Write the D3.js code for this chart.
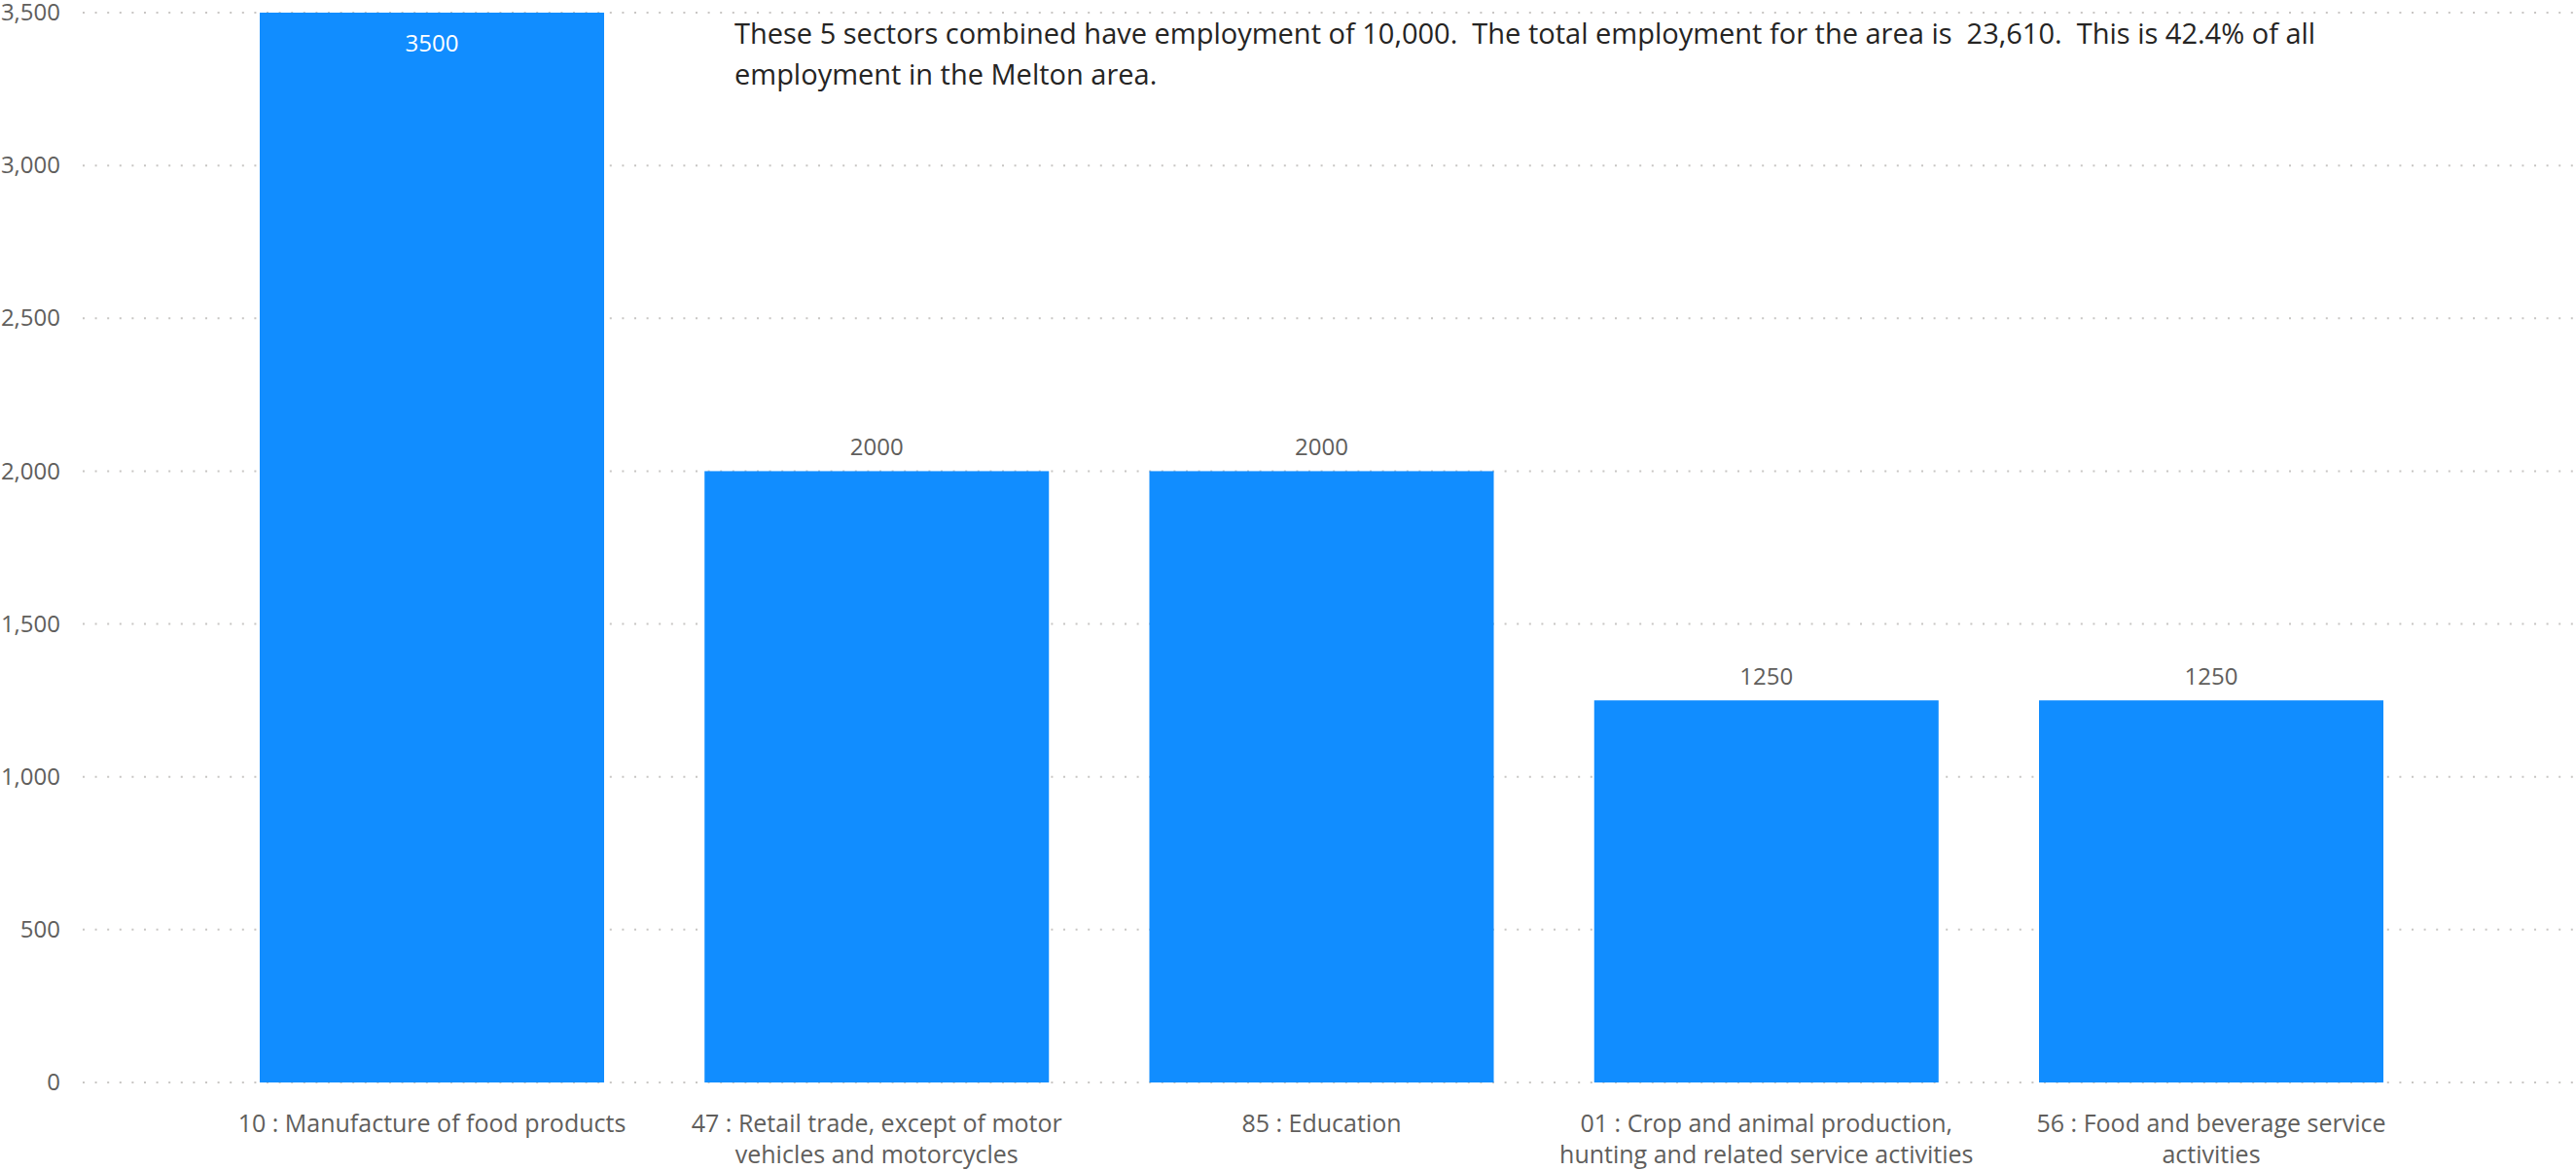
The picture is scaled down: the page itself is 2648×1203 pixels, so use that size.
<!DOCTYPE html>
<html>
<head>
<meta charset="utf-8">
<script src="https://cdn.jsdelivr.net/npm/d3@7"></script>
<style>
  html, body { margin: 0; padding: 0; background: #fff; }
  svg { display: block; }
  text { font-family: "Segoe UI", "Open Sans", "Noto Sans", sans-serif; }
</style>
</head>
<body>
<svg id="chart" width="2648" height="1203"></svg>
<script>
const categories = [
  "10 : Manufacture of food products",
  "47 : Retail trade, except of motor vehicles and motorcycles",
  "85 : Education",
  "01 : Crop and animal production, hunting and related service activities",
  "56 : Food and beverage service activities"
];
const categoryLabelLines = [
  ["10 : Manufacture of food products"],
  ["47 : Retail trade, except of motor", "vehicles and motorcycles"],
  ["85 : Education"],
  ["01 : Crop and animal production,", "hunting and related service activities"],
  ["56 : Food and beverage service", "activities"]
];
const employment = [3500, 2000, 2000, 1250, 1250];
const yTicks = [0, 500, 1000, 1500, 2000, 2500, 3000, 3500];
const annotationLines = [
  "These 5 sectors combined have employment of 10,000.  The total employment for the area is  23,610.  This is 42.4% of all",
  "employment in the Melton area."
];

const svg = d3.select("#chart");
const plot = { left: 85, right: 2632, top: 13, bottom: 1113 };

const x = d3.scaleBand()
  .domain(categories)
  .range([plot.left, plot.right])
  .paddingInner(0.2258)
  .paddingOuter(0.398);

const y = d3.scaleLinear()
  .domain([0, 3500])
  .range([plot.bottom, plot.top]);

// y labels
const yAxis = d3.axisLeft(y)
  .tickValues(yTicks)
  .tickFormat(d3.format(","))
  .tickSize(0)
  .tickPadding(23);
const gy = svg.append("g")
  .attr("transform", `translate(${plot.left},0)`)
  .call(yAxis);
gy.select(".domain").remove();
gy.selectAll("text")
  .attr("fill", "#605E5C")
  .style("font-size", "24px");

// dotted gridlines
svg.append("g").selectAll("line")
  .data(yTicks)
  .join("line")
  .attr("x1", plot.left)
  .attr("x2", 2646)
  .attr("y1", d => y(d))
  .attr("y2", d => y(d))
  .attr("stroke", "#C8C6C4")
  .attr("stroke-width", 2)
  .attr("stroke-dasharray", "2,10.6");

const rows = categories.map((c, i) => ({ c, v: employment[i], lines: categoryLabelLines[i] }));

// bars
svg.append("g").selectAll("rect")
  .data(rows)
  .join("rect")
  .attr("x", d => x(d.c))
  .attr("width", x.bandwidth())
  .attr("y", d => y(d.v))
  .attr("height", d => y(0) - y(d.v))
  .attr("fill", "#118DFF");

// data labels
const inside = d => (y(d.v) - y.range()[1] < 40);
svg.append("g").selectAll("text")
  .data(rows)
  .join("text")
  .attr("x", d => x(d.c) + x.bandwidth() / 2)
  .attr("y", d => inside(d) ? y(d.v) + 40 : y(d.v) - 16)
  .attr("text-anchor", "middle")
  .attr("fill", d => inside(d) ? "#FFFFFF" : "#605E5C")
  .style("font-size", "24px")
  .text(d => d.v);

// x axis labels
const xAxis = d3.axisBottom(x).tickSize(0).tickPadding(0);
const gx = svg.append("g")
  .attr("transform", `translate(0,${plot.bottom})`)
  .call(xAxis);
gx.select(".domain").remove();
gx.selectAll("text")
  .attr("fill", "#605E5C")
  .style("font-size", "25px")
  .each(function(d) {
    const t = d3.select(this);
    const lines = categoryLabelLines[categories.indexOf(d)];
    t.text(null).attr("y", 0).attr("dy", null);
    lines.forEach((ln, i) => {
      t.append("tspan")
        .attr("x", 0)
        .attr("y", 51 + i * 32)
        .text(ln);
    });
  });

// annotation
const ann = svg.append("text")
  .attr("x", 755)
  .attr("y", 45)
  .attr("fill", "#252423")
  .style("font-size", "29px")
  .style("white-space", "pre")
  .attr("xml:space", "preserve");
annotationLines.forEach((ln, i) => {
  ann.append("tspan").attr("x", 755).attr("y", 45 + i * 42).text(ln);
});
</script>
</body>
</html>
